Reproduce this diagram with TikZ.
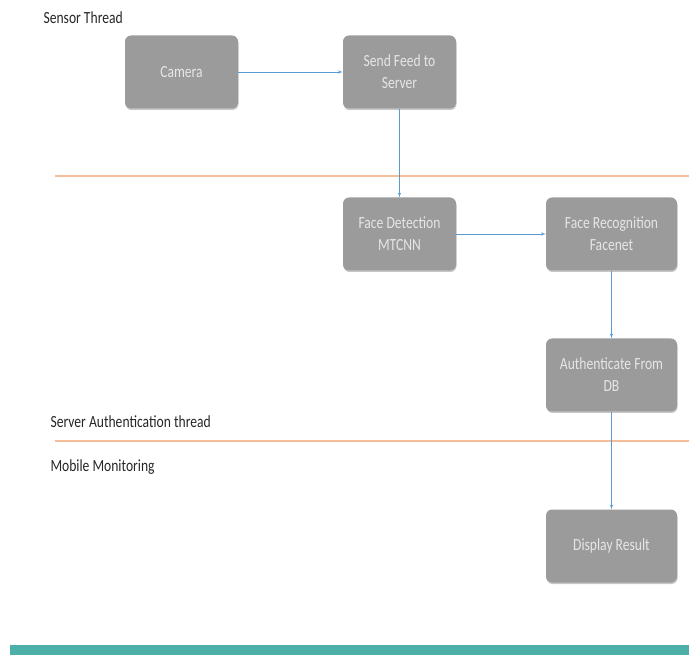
\documentclass[tikz,border=0pt]{standalone}
\usepackage{fontspec}
\setmainfont[FakeStretch=0.8]{Carlito}
\usepackage{tikz}
\usetikzlibrary{arrows,shapes,shadows,positioning,calc}

\definecolor{boxgray}{HTML}{9B9B9B}
\definecolor{boxtext}{HTML}{E6E6E6}
\definecolor{flowblue}{HTML}{5B9BD5}
\definecolor{laneorange}{RGB}{244,190,155}
\definecolor{barteal}{HTML}{4DB0A8}

\tikzset{
	procbox/.style={rectangle, rounded corners=6pt, fill=boxgray, draw=none,
		minimum width=113pt, minimum height=73pt, align=center,
		text=boxtext, font=\fontsize{17}{22}\selectfont,
		drop shadow={shadow xshift=0.5pt, shadow yshift=-1.5pt, opacity=0.45}},
	widebox/.style={procbox, minimum width=131pt},
	lanetitle/.style={anchor=west, font=\fontsize{17}{20}\selectfont, text=black!85},
	laneline/.style={draw=laneorange, line width=1.1pt},
	flow/.style={-latex', flowblue, semithick}
}

\begin{document}
\begin{tikzpicture}[x=1pt, y=-1pt]
		\useasboundingbox (0,0) rectangle (689,655);

		\node[lanetitle] (T1) at (40, 18) {Sensor Thread};
		\node[lanetitle] (T2) at (47, 422) {Server Authentication thread};
		\node[lanetitle] (T3) at (47, 467) {Mobile Monitoring};

		\node[procbox] (CAM) at (181.5, 72) {Camera};
		\node[procbox] (SND) at (399.5, 72) {Send Feed to\\Server};
		\node[procbox] (FD) at (399.5, 234) {Face Detection\\MTCNN};
		\node[widebox] (FR) at (611.5, 234) {Face Recognition\\Facenet};
		\node[widebox] (AUTH) at (611.5, 375) {Authenticate From\\DB};
		\node[widebox] (DISP) at (611.5, 546) {Display Result};

		% swim lane borders
		\path[laneline] (55, 176) -- (689, 176);
		\path[laneline] (55, 441) -- (689, 441);
		\fill[barteal] (10, 645) rectangle (689, 655);

		\draw[flow] (CAM) -- (SND);
		\draw[flow] (SND) -- (FD);
		\draw[flow] (FD) -- (FR);
		\draw[flow] (FR) -- (AUTH);
		\draw[flow] (AUTH) -- (DISP);
	\end{tikzpicture}
\end{document}
